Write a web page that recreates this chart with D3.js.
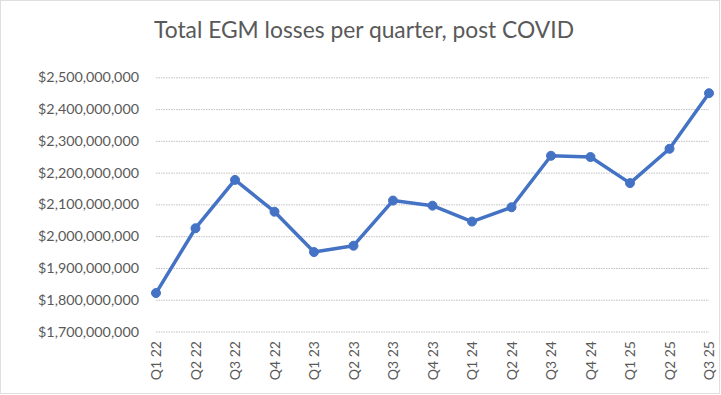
<!DOCTYPE html>
<html>
<head>
<meta charset="utf-8">
<script src="https://cdn.jsdelivr.net/npm/d3@7"></script>
<style>
  html, body { margin: 0; padding: 0; background: #fff; }
</style>
</head>
<body>
<script>
const quarters = ['Q1 22', 'Q2 22', 'Q3 22', 'Q4 22', 'Q1 23', 'Q2 23', 'Q3 23', 'Q4 23',
                  'Q1 24', 'Q2 24', 'Q3 24', 'Q4 24', 'Q1 25', 'Q2 25', 'Q3 25'];
const losses = [1821e6, 2025e6, 2177e6, 2077e6, 1950e6, 1970e6, 2112e6, 2096e6,
                2046e6, 2091e6, 2253e6, 2249e6, 2167e6, 2275e6, 2450e6];
const yTicks = [1.7e9, 1.8e9, 1.9e9, 2.0e9, 2.1e9, 2.2e9, 2.3e9, 2.4e9, 2.5e9];
const title = 'Total EGM losses per quarter, post COVID';

const W = 721, H = 395;
const font = 'Lato, "Open Sans", sans-serif';

const svg = d3.select('body').append('svg')
    .attr('width', W)
    .attr('height', H);

svg.append('rect')
    .attr('width', W).attr('height', H)
    .attr('fill', 'white');

// chart border (dotted, like the Excel chart area)
svg.append('rect')
    .attr('x', 0.5).attr('y', 0.5)
    .attr('width', W - 2).attr('height', H - 2)
    .attr('fill', 'none')
    .attr('stroke', '#bfbfbf')
    .attr('stroke-dasharray', '1,1');

const x = d3.scalePoint()
    .domain(quarters)
    .range([156, 709]);

const y = d3.scaleLinear()
    .domain([1.7e9, 2.5e9])
    .range([331.5, 77.3]);

// grid lines
svg.append('g')
    .attr('transform', 'translate(156,0)')
    .call(d3.axisLeft(y).tickValues(yTicks).tickSize(-(709 - 156)).tickFormat(''))
    .call(g => g.select('.domain').remove())
    .call(g => g.selectAll('.tick line')
        .attr('stroke', '#c0c0c0')
        .attr('stroke-dasharray', '1.5,1'));

// y tick labels
svg.append('g')
    .attr('transform', 'translate(139,0)')
    .call(d3.axisLeft(y).tickValues(yTicks).tickSize(0).tickPadding(0).tickFormat(d3.format('$,.0f')))
    .call(g => g.select('.domain').remove())
    .call(g => g.selectAll('text')
        .attr('fill', '#595959')
        .style('font-family', font)
        .style('font-size', '14.3px'));

// x tick labels, rotated
svg.append('g')
    .attr('transform', 'translate(0,341)')
    .call(d3.axisBottom(x).tickSize(0).tickPadding(0))
    .call(g => g.select('.domain').remove())
    .call(g => g.selectAll('text')
        .attr('fill', '#595959')
        .attr('transform', 'rotate(-90)')
        .attr('text-anchor', 'end')
        .attr('x', 0)
        .attr('y', 0)
        .attr('dy', '0.35em')
        .style('font-family', font)
        .style('font-size', '14px'));

// line
svg.append('path')
    .datum(losses)
    .attr('fill', 'none')
    .attr('stroke', '#4472c4')
    .attr('stroke-width', 3.5)
    .attr('stroke-linejoin', 'round')
    .attr('d', d3.line()
        .x((d, i) => x(quarters[i]))
        .y(d => y(d)));

// markers
svg.append('g')
    .selectAll('circle')
    .data(losses)
    .join('circle')
    .attr('cx', (d, i) => x(quarters[i]))
    .attr('cy', d => y(d))
    .attr('r', 4.5)
    .attr('fill', '#4472c4')
    .attr('stroke', '#4472c4')
    .attr('stroke-width', 1);

// title
svg.append('text')
    .attr('x', 364)
    .attr('y', 38)
    .attr('text-anchor', 'middle')
    .attr('fill', '#595959')
    .style('font-family', font)
    .style('font-size', '22.8px')
    .text(title);
</script>
</body>
</html>
